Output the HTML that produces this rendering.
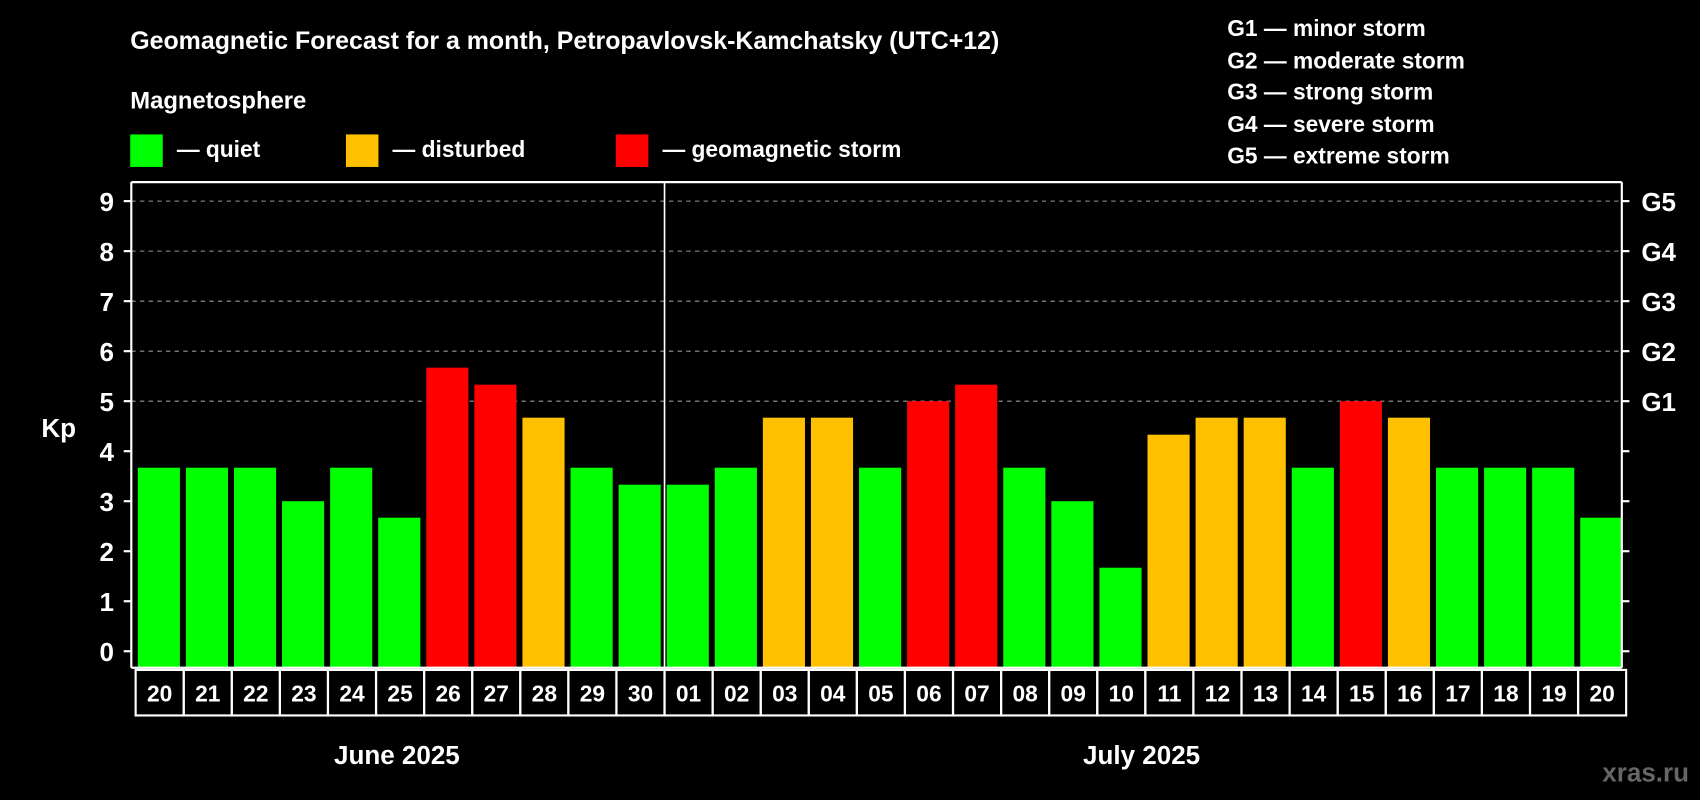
<!DOCTYPE html>
<html><head><meta charset="utf-8"><style>
html,body{margin:0;padding:0;background:#000;}
svg{display:block;}
text{font-family:"Liberation Sans",Arial,sans-serif;font-weight:bold;fill:#fff;}
</style></head><body>
<svg id="chart" width="1700" height="800" viewBox="0 0 1568 738" xmlns="http://www.w3.org/2000/svg">
<rect width="1568" height="738" fill="#000"/>
<text x="120" y="45" font-size="23">Geomagnetic Forecast for a month, Petropavlovsk-Kamchatsky (UTC+12)</text>
<text x="120" y="100" font-size="22">Magnetosphere</text>
<g>
<rect x="120" y="124" width="30" height="30" fill="#00ff00"/>
<text x="163" y="145" font-size="21">— quiet</text>
<rect x="319" y="124" width="30" height="30" fill="#ffc000"/>
<text x="362" y="145" font-size="21">— disturbed</text>
<rect x="568" y="124" width="30" height="30" fill="#ff0000"/>
<text x="611" y="145" font-size="21">— geomagnetic storm</text>
</g>
<g font-size="21">
<text x="1132" y="33">G1 — minor storm</text>
<text x="1132" y="63">G2 — moderate storm</text>
<text x="1132" y="92">G3 — strong storm</text>
<text x="1132" y="122">G4 — severe storm</text>
<text x="1132" y="151">G5 — extreme storm</text>
</g>
<text x="38" y="403" font-size="24">Kp</text>
<g id="grid"></g>
<g id="bars"></g>
<g id="axes"></g>
<g id="dates"></g>
<text x="366" y="705" font-size="24" text-anchor="middle">June 2025</text>
<text x="1053" y="705" font-size="24" text-anchor="middle">July 2025</text>
<text x="1558" y="721" font-size="24" text-anchor="end" style="fill:#666">xras.ru</text>
</svg>
<script>
const days=["20","21","22","23","24","25","26","27","28","29","30","01","02","03","04","05","06","07","08","09","10","11","12","13","14","15","16","17","18","19","20"];
const kpValues=[3.67,3.67,3.67,3,3.67,2.67,5.67,5.33,4.67,3.67,3.33,3.33,3.67,4.67,4.67,3.67,5,5.33,3.67,3,1.67,4.33,4.67,4.67,3.67,5,4.67,3.67,3.67,3.67,2.67];
const yTicks=[0,1,2,3,4,5,6,7,8,9];
const gLabels=["","","","","","G1","G2","G3","G4","G5"];
const NS="http://www.w3.org/2000/svg";
const X0=121,X1=1496,TOP=168,BOT=616;
const yMin=-0.33,yMax=9.38;
const y=v=>BOT-(v-yMin)/(yMax-yMin)*(BOT-TOP);
const step=(X1-X0)/days.length;
const x=i=>X0+i*step;
function mk(t,a,p){const e=document.createElementNS(NS,t);for(const k in a)e.setAttribute(k,a[k]);document.getElementById(p).appendChild(e);return e;}
yTicks.forEach((t,i)=>{
  if(t>=5){const l=mk('line',{x1:X0,x2:X1+4,y1:y(t),y2:y(t),stroke:'#999','stroke-dasharray':'4,4','stroke-width':1},'grid');
  
  }
  const tk=mk('line',{x1:X0-7,x2:X0,y1:y(t),y2:y(t),stroke:'#fff','stroke-width':2},'axes');
  
  
  const tr=mk('line',{x1:X1,x2:X1+7,y1:y(t),y2:y(t),stroke:'#fff','stroke-width':2},'axes');
  
  
  const lb=mk('text',{x:X0-16,y:y(t)+9,'font-size':24,'text-anchor':'end'},'axes');
  lb.textContent=t;
  
  
  if(gLabels[i]){const g=mk('text',{x:X1+18,y:y(t)+9,'font-size':24},'axes');g.textContent=gLabels[i];
  
  }
});
kpValues.forEach((v,i)=>{
  const c=v>=5?'#ff0000':(v>=4?'#ffc000':'#00ff00');
  const b=mk('rect',{x:x(i)+6,y:y(v),width:step-5.5,height:BOT-y(v),fill:c},'bars');
  
  
  const cell=mk('rect',{x:x(i)+4,y:618,width:step,height:42,fill:'none',stroke:'#fff','stroke-width':2},'dates');
  
  
  const t=mk('text',{x:x(i)+4+step/2,y:647,'font-size':21,'text-anchor':'middle'},'dates');
  t.textContent=days[i];
  
  
});
[[X0,TOP,X0,BOT],[X1,TOP,X1,BOT],[X0,TOP,X1,TOP],[X0,BOT,X1,BOT],[x(11)+4,TOP,x(11)+4,BOT]].forEach((a,i)=>{
  const l=mk('line',{x1:a[0],y1:a[1],x2:a[2],y2:a[3],stroke:'#fff','stroke-width':i==4?1.5:2},'axes');
  
  
});
</script>
</body></html>
